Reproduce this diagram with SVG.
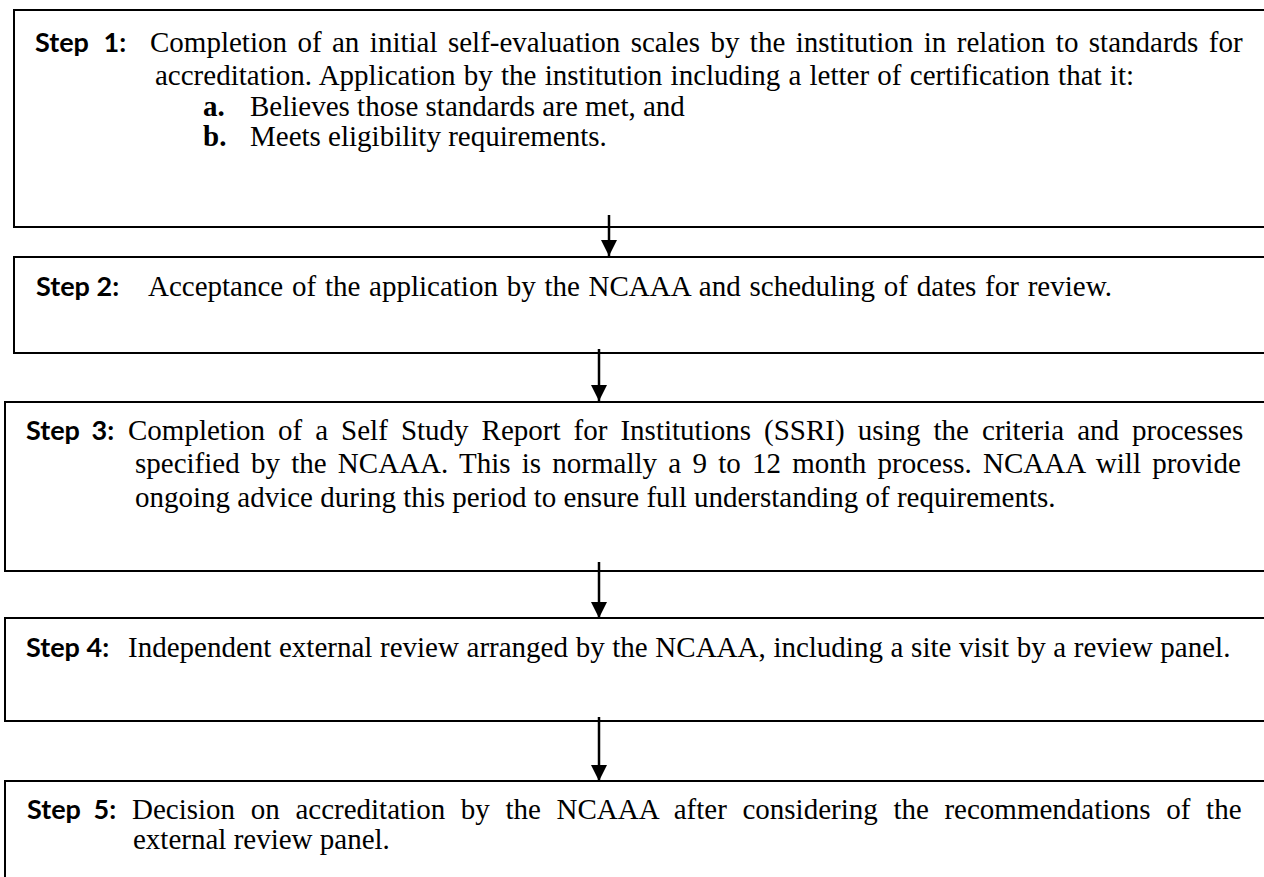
<svg xmlns="http://www.w3.org/2000/svg" width="1264" height="877" viewBox="0 0 1264 877">
<style>
.box{fill:#fff;stroke:#000;stroke-width:2}
.lbl{font-family:Lato,"Liberation Sans",sans-serif;font-weight:bold;font-size:27px;fill:#000}
.t{font-family:"Liberation Serif","Times New Roman",serif;font-size:29px;fill:#000}
.tb{font-family:"Liberation Serif","Times New Roman",serif;font-size:29px;font-weight:bold;fill:#000}
.conn{stroke:#000;stroke-width:2.5;fill:none}
</style>
<defs>
<marker id="ah" markerUnits="userSpaceOnUse" markerWidth="18" markerHeight="16" viewBox="0 0 18 16" refX="16" refY="8" orient="auto">
<path d="M0,0 L16,8 L0,16 Z" fill="#000"/>
</marker>
</defs>
<rect width="1264" height="877" fill="#fff"/>
<g id="step1">
<rect class="box" x="14" y="10" width="1260" height="217"/>
<text class="lbl" x="35" y="52" word-spacing="8">Step 1:</text>
<text class="t" x="150" y="52" word-spacing="3.2">Completion of an initial self-evaluation scales by the institution in relation to standards for</text>
<text class="t" x="155" y="85" word-spacing="1">accreditation. Application by the institution including a letter of certification that it:</text>
<text class="tb" x="203" y="116">a.</text>
<text class="t" x="250" y="116">Believes those standards are met, and</text>
<text class="tb" x="203" y="146">b.</text>
<text class="t" x="250" y="146">Meets eligibility requirements.</text>
</g>
<g id="step2">
<rect class="box" x="14" y="257" width="1260" height="96"/>
<text class="lbl" x="36" y="296">Step 2:</text>
<text class="t" x="148" y="296" word-spacing="1.5">Acceptance of the application by the NCAAA and scheduling of dates for review.</text>
</g>
<g id="step3">
<rect class="box" x="5" y="402" width="1269" height="169"/>
<text class="lbl" x="26" y="440" word-spacing="5">Step 3:</text>
<text class="t" x="128" y="440" word-spacing="5.8">Completion of a Self Study Report for Institutions (SSRI) using the criteria and processes</text>
<text class="t" x="135" y="473" word-spacing="4">specified by the NCAAA. This is normally a 9 to 12 month process. NCAAA will provide</text>
<text class="t" x="135" y="507">ongoing advice during this period to ensure full understanding of requirements.</text>
</g>
<g id="step4">
<rect class="box" x="5" y="618" width="1269" height="103"/>
<text class="lbl" x="26" y="657">Step 4:</text>
<text class="t" x="128" y="657" word-spacing="0.4">Independent external review arranged by the NCAAA, including a site visit by a review panel.</text>
</g>
<g id="step5">
<rect class="box" x="5" y="781" width="1269" height="110"/>
<text class="lbl" x="27" y="819" word-spacing="6">Step 5:</text>
<text class="t" x="132" y="819" word-spacing="8.4">Decision on accreditation by the NCAAA after considering the recommendations of the</text>
<text class="t" x="133" y="849">external review panel.</text>
</g>
<g id="connectors">
<line class="conn" x1="609" y1="215" x2="609" y2="256" marker-end="url(#ah)"/>
<line class="conn" x1="599" y1="349" x2="599" y2="401" marker-end="url(#ah)"/>
<line class="conn" x1="599" y1="562" x2="599" y2="618" marker-end="url(#ah)"/>
<line class="conn" x1="599" y1="717" x2="599" y2="781" marker-end="url(#ah)"/>
</g>
</svg>
